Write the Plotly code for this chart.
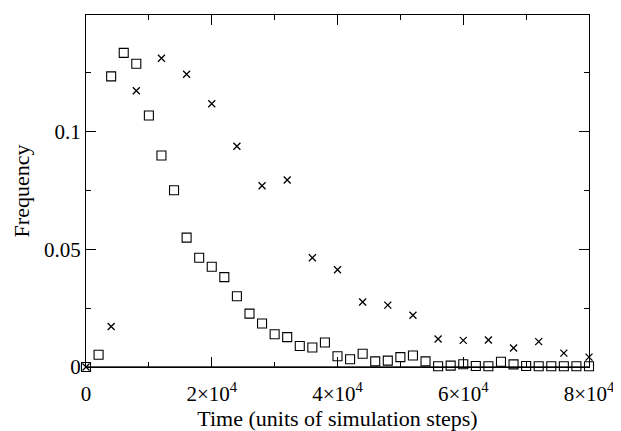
import plotly.graph_objects as go

# Time (simulation steps) for the square series
steps_sq = [0, 2000, 4000, 6000, 8000, 10000, 12000, 14000, 16000, 18000,
            20000, 22000, 24000, 26000, 28000, 30000, 32000, 34000, 36000, 38000,
            40000, 42000, 44000, 46000, 48000, 50000, 52000, 54000, 56000, 58000,
            60000, 62000, 64000, 66000, 68000, 70000, 72000, 74000, 76000, 78000, 80000]
freq_sq = [0.0, 0.0052, 0.1235, 0.1335, 0.1289, 0.1069, 0.0899, 0.0751, 0.055, 0.0464,
           0.0426, 0.0382, 0.0301, 0.0227, 0.0185, 0.0139, 0.0127, 0.0089, 0.0083, 0.0104,
           0.0046, 0.0033, 0.0056, 0.0024, 0.0027, 0.0042, 0.0049, 0.0024, 0.0003, 0.0006,
           0.0012, 0.0004, 0.0003, 0.0022, 0.0011, 0.0004, 0.0003, 0.0003, 0.0003, 0.0003, 0.0003]

# Time (simulation steps) for the cross series
steps_x = [0, 4000, 8000, 12000, 16000, 20000, 24000, 28000, 32000, 36000,
           40000, 44000, 48000, 52000, 56000, 60000, 64000, 68000, 72000, 76000, 80000]
freq_x = [0.0, 0.0172, 0.1174, 0.1312, 0.1244, 0.1119, 0.0938, 0.077, 0.0795, 0.0464,
          0.0413, 0.0276, 0.0263, 0.0220, 0.0119, 0.0113, 0.0115, 0.0081, 0.0108, 0.0059, 0.0042]

x_tickvals = [0, 20000, 40000, 60000, 80000]
x_ticktext = ["0", "2×10<sup>4</sup>", "4×10<sup>4</sup>", "6×10<sup>4</sup>", "8×10<sup>4</sup>"]
x_minor = [10000, 30000, 50000, 70000]
y_tickvals = [0, 0.05, 0.1]
y_ticktext = ["0", "0.05", "0.1"]
y_minor = [0.025, 0.075, 0.125]

FONT = "Liberation Serif"

fig = go.Figure()
fig.add_trace(go.Scatter(
    x=steps_sq, y=freq_sq, mode="markers", cliponaxis=False,
    marker=dict(symbol="square-open", size=9, color="black", line=dict(width=1.1, color="black")),
    showlegend=False))
fig.add_trace(go.Scatter(
    x=steps_x, y=freq_x, mode="markers", cliponaxis=False,
    marker=dict(symbol="x-thin-open", size=7, color="black", line=dict(width=1.3, color="black")),
    showlegend=False))

# thicker grey baseline as in the original
fig.add_shape(type="line", xref="x domain", yref="y", x0=0, x1=1, y0=0, y1=0,
              line=dict(color="#555555", width=2), layer="below")

# the page body has an 8px default margin, so the figure is sized to fit the window
fig.update_layout(
    width=613, height=423,
    margin=dict(l=78, r=28, t=6, b=61),
    paper_bgcolor="white", plot_bgcolor="white",
    font=dict(family=FONT, size=22, color="black"),
    xaxis=dict(
        range=[0, 80000], tickmode="array", tickvals=x_tickvals, ticktext=x_ticktext,
        ticks="inside", ticklen=10, tickwidth=1, tickcolor="black",
        showline=True, linecolor="black", linewidth=1, mirror="ticks",
        showgrid=False, zeroline=False, ticklabelstandoff=8,
        minor=dict(tickvals=x_minor, ticks="inside", ticklen=5, tickwidth=1, tickcolor="black", showgrid=False),
        tickfont=dict(family=FONT, size=21),
        title=dict(text="Time (units of simulation steps)", font=dict(family=FONT, size=22), standoff=3),
    ),
    yaxis=dict(
        range=[0, 0.1496], tickmode="array", tickvals=y_tickvals, ticktext=y_ticktext,
        ticks="inside", ticklen=10, tickwidth=1, tickcolor="black",
        showline=True, linecolor="black", linewidth=1, mirror="ticks",
        showgrid=False, zeroline=False,
        minor=dict(tickvals=y_minor, ticks="inside", ticklen=5, tickwidth=1, tickcolor="black", showgrid=False),
        tickfont=dict(family=FONT, size=21),
        title=dict(text="Frequency", font=dict(family=FONT, size=22), standoff=8),
    ),
)

fig.write_html("out.html")
